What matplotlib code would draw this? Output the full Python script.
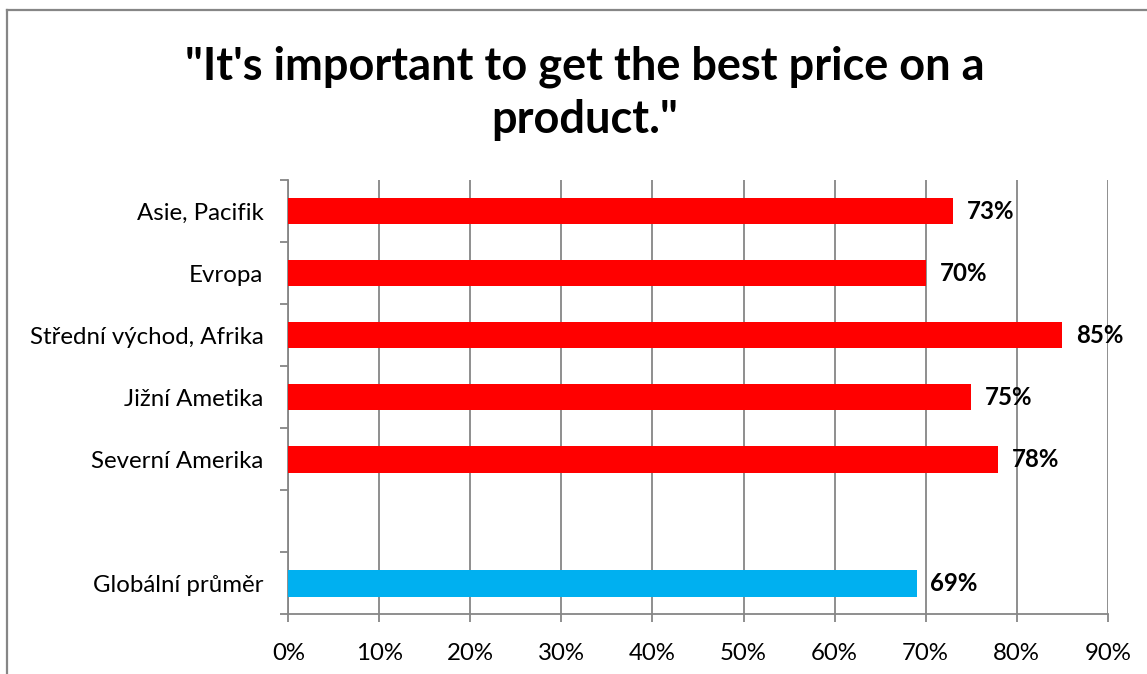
import matplotlib
matplotlib.use("Agg")
import matplotlib.pyplot as plt
from matplotlib.lines import Line2D
from matplotlib.ticker import MultipleLocator, FuncFormatter

plt.rcParams['font.family'] = ['Lato', 'DejaVu Sans']

# Survey data (share of respondents who agree)
regions = ["Asie, Pacifik", "Evropa", "Střední východ, Afrika",
           "Jižní Ametika", "Severní Amerika", "", "Globální průměr"]
values = [73, 70, 85, 75, 78, None, 69]
colors = ["#FF0000", "#FF0000", "#FF0000", "#FF0000", "#FF0000", None, "#00B0F0"]
title = "\"It's important to get the best price on a\nproduct.\""

W, H, DPI = 1147, 674, 100
fig = plt.figure(figsize=(W / DPI, H / DPI), dpi=DPI)
fig.patch.set_facecolor("white")

grey = "#868686"
fs = 17.3

# chart-area frame (left and top edges)
fig.add_artist(Line2D([7.5 / W, 7.5 / W], [0, 1 - 9.5 / H], transform=fig.transFigure,
                      color=grey, lw=1.6))
fig.add_artist(Line2D([7.5 / W, 1], [1 - 9.5 / H, 1 - 9.5 / H], transform=fig.transFigure,
                      color=grey, lw=1.6))

ax = fig.add_axes([288.3 / W, 1 - 614.3 / H, (1107.7 - 288.3) / W, (614.3 - 180) / H])

pos = list(range(len(regions)))
for p, v, c in zip(pos, values, colors):
    if v is None:
        continue
    ax.barh(p, v, height=0.43, color=c, zorder=3)
    ax.annotate(f"{v}%", xy=(v, p), xytext=(10, 0), textcoords="offset points",
                ha="left", va="center", fontsize=fs, fontweight="bold", color="black",
                zorder=4)

ax.set_xlim(0, 90)
ax.set_ylim(len(regions) - 0.5, -0.5)
ax.xaxis.set_major_locator(MultipleLocator(10))
ax.xaxis.set_major_formatter(FuncFormatter(lambda x, _: f"{x:.0f}%"))
ax.grid(axis="x", color=grey, lw=1.3, zorder=0)

ax.set_yticks(pos)
ax.set_yticklabels(regions)
ax.set_yticks([p - 0.5 for p in pos] + [len(regions) - 0.5], minor=True)
ax.tick_params(axis="y", which="major", length=0, pad=18, labelsize=fs)
ax.tick_params(axis="y", which="minor", length=6, width=1.3, color=grey)
ax.tick_params(axis="x", which="major", length=6, width=1.3, color=grey, pad=15,
               labelsize=fs)

for s in ("top", "right"):
    ax.spines[s].set_visible(False)
for s in ("left", "bottom"):
    ax.spines[s].set_color(grey)
    ax.spines[s].set_linewidth(1.3)

fig.text(585 / W, 1 - 93 / H, title, ha="center", va="center", fontsize=32.5,
         fontweight="bold", linespacing=1.33)

fig.savefig("out.png", dpi=DPI, facecolor="white")
